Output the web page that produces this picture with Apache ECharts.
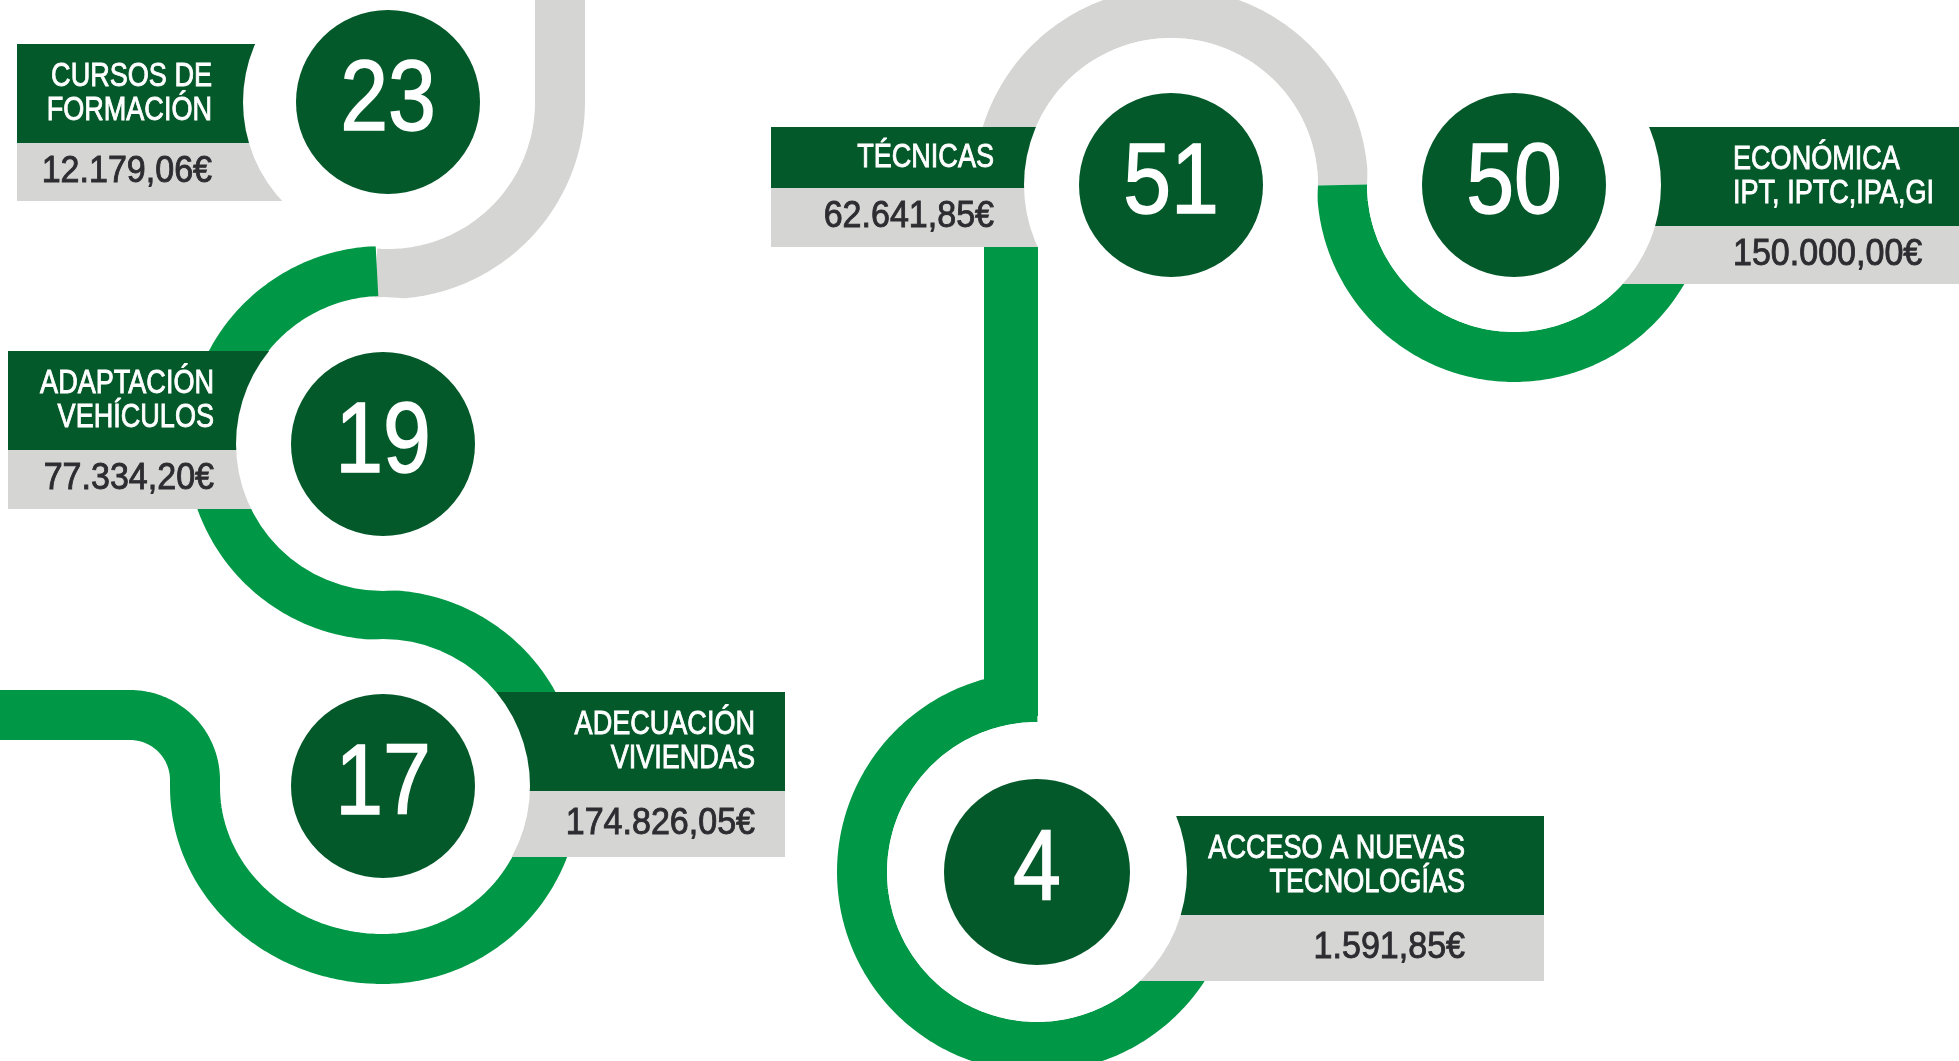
<!DOCTYPE html>
<html>
<head>
<meta charset="utf-8">
<title>Ayudas</title>
<script src="https://cdn.jsdelivr.net/npm/echarts@6/dist/echarts.min.js"></script>
<style>
    html, body { margin: 0; padding: 0; background: #fff; }
    #chart { width: 1959px; height: 1061px; }
</style>
</head>
<body>
<div id="chart"></div>
<script>
    // datos
    const categories = [
        'CURSOS DE\nFORMACIÓN',
        'ADAPTACIÓN\nVEHÍCULOS',
        'ADECUACIÓN\nVIVIENDAS',
        'TÉCNICAS',
        'ECONÓMICA\nIPT, IPTC,IPA,GI',
        'ACCESO A NUEVAS\nTECNOLOGÍAS'
    ];
    const counts = [23, 19, 17, 51, 50, 4];
    const amounts = [12179.06, 77334.20, 174826.05, 62641.85, 150000.00, 1591.85];

    // layout (unidades = px del lienzo)
    const nodeX = [388, 383, 383, 1171, 1514, 1037];
    const nodeY = [102, 444, 786, 185, 185, 872];
    const nodeR = [92, 92, 92, 92, 92, 93];
    const haloR = [145, 147, 147, 147, 147, 150];
    // [x0, x1, verdeTop, verdeBottom, grisBottom, textoX, align]
    const boxes = [
        [17, 388, 44, 143, 201, 212, 'right'],
        [8, 383, 351, 450, 509, 214, 'right'],
        [383, 785, 692, 791, 857, 755, 'right'],
        [771, 1171, 127, 188, 247, 994, 'right'],
        [1514, 1959, 127, 226, 284, 1733, 'left'],
        [1037, 1544, 816, 915, 981, 1465, 'right']
    ];

    const colors = {
        dark: '#03592a',
        green: '#009846',
        gray: '#d5d6d3',
        text: '#2c2c31'
    };
    const font = "'Liberation Sans', Arial, sans-serif";

    function arc(cx, cy, rx, ry, a0, a1) {
        const pts = [];
        const n = Math.max(8, Math.ceil(Math.abs(a1 - a0) / 2));
        for (let k = 0; k <= n; k++) {
            const a = (a0 + (a1 - a0) * k / n) * Math.PI / 180;
            pts.push([cx + rx * Math.cos(a), cy + ry * Math.sin(a)]);
        }
        return pts;
    }

    // recorrido (gris / verde)
    const track = [
        { color: colors.gray, width: 50, pts: [[560, -10], [560, 102]].concat(arc(388, 102, 172, 172, 0, 94)) },
        { color: colors.green, width: 50, pts: arc(383, 443, 172, 172, 268, 90).concat(
            arc(383, 787, 172, 172, 270, 450).slice(1),
            arc(383, 787, 188, 172, 90, 180).slice(1),
            arc(130, 780, 65, 65, 0, -90),
            [[-10, 715]]
        ) },
        { color: colors.gray, width: 50, pts: arc(1171, 185, 172, 172, 180, 360) },
        { color: colors.green, width: 50, pts: arc(1514, 185, 172, 172, 180, 0) },
        { color: colors.green, width: 54, pts: [[1011, 185], [1011, 716]] },
        { color: colors.green, width: 50, pts: arc(1037, 872, 175, 175, 270, 0) }
    ];

    function fmtEuro(v) {
        const parts = v.toFixed(2).split('.');
        return parts[0].replace(/\B(?=(\d{3})+(?!\d))/g, '.') + ',' + parts[1] + '€';
    }

    const chart = echarts.init(document.getElementById('chart'));

    const option = {
        animation: false,
        grid: { left: 0, right: 0, top: 0, bottom: 0 },
        xAxis: { type: 'value', min: 0, max: 1959, show: false },
        yAxis: { type: 'value', min: 0, max: 1061, inverse: true, show: false },
        series: [
            {
                type: 'custom',
                name: 'track',
                silent: true,
                z: 1,
                data: [[0, 0]],
                renderItem(params, api) {
                    return {
                        type: 'group',
                        children: track.map(t => ({
                            type: 'polyline',
                            shape: { points: t.pts.map(p => api.coord(p)) },
                            style: { stroke: t.color, lineWidth: t.width, fill: null, lineCap: 'butt', lineJoin: 'round' }
                        }))
                    };
                }
            },
            {
                type: 'custom',
                name: 'nodos',
                z: 2,
                encode: { x: 0, y: 1 },
                data: counts.map((c, i) => [nodeX[i], nodeY[i], c, i]),
                renderItem(params, api) {
                    const i = api.value(3);
                    const b = boxes[i];
                    const c = api.coord([api.value(0), api.value(1)]);
                    const r = api.size([nodeR[i], 0])[0];
                    const h = api.size([haloR[i], 0])[0];

                    const rect = (x0, y0, x1, y1, fill) => {
                        const p0 = api.coord([x0, y0]);
                        const p1 = api.coord([x1, y1]);
                        return {
                            type: 'rect',
                            shape: {
                                x: Math.min(p0[0], p1[0]),
                                y: Math.min(p0[1], p1[1]),
                                width: Math.abs(p1[0] - p0[0]),
                                height: Math.abs(p1[1] - p0[1])
                            },
                            style: { fill }
                        };
                    };
                    // texto por linea base (el trazo fino simula el peso medio del original)
                    const txt = (x, base, text, fs, sx, fill, align, sw) => {
                        const p = api.coord([x, base]);
                        return {
                            type: 'text',
                            x: p[0],
                            y: p[1] - 0.33 * fs,
                            scaleX: sx,
                            style: {
                                text, x: 0, y: 0, align, verticalAlign: 'middle',
                                fontSize: fs, fontFamily: font, fill,
                                stroke: fill, lineWidth: sw
                            }
                        };
                    };

                    const children = [
                        rect(b[0], b[2], b[1], b[3], colors.dark),
                        rect(b[0], b[3], b[1], b[4], colors.gray),
                        { type: 'circle', shape: { cx: c[0], cy: c[1], r: h }, style: { fill: '#fff' } },
                        { type: 'circle', shape: { cx: c[0], cy: c[1], r: r }, style: { fill: colors.dark } }
                    ];

                    const lines = categories[i].split('\n');
                    const mid = (b[2] + b[3]) / 2;
                    lines.forEach((t, k) => {
                        const base = mid + 11 - 17 * (lines.length - 1) + 34 * k;
                        children.push(txt(b[5], base, t, 33, 0.82, '#fff', b[6], 0.9));
                    });
                    children.push(txt(b[5], (b[3] + b[4]) / 2 + 12, fmtEuro(amounts[i]), 37, 0.92, colors.text, b[6], 0.9));

                    children.push({
                        type: 'text',
                        x: c[0],
                        y: c[1],
                        scaleX: 0.86,
                        style: {
                            text: String(api.value(2)), x: 0, y: 0,
                            align: 'center', verticalAlign: 'middle',
                            fontSize: 100, fontFamily: font, fill: '#fff',
                            stroke: '#fff', lineWidth: 1.5
                        }
                    });

                    return { type: 'group', children };
                }
            }
        ]
    };

    chart.setOption(option, true);
</script>
</body>
</html>
